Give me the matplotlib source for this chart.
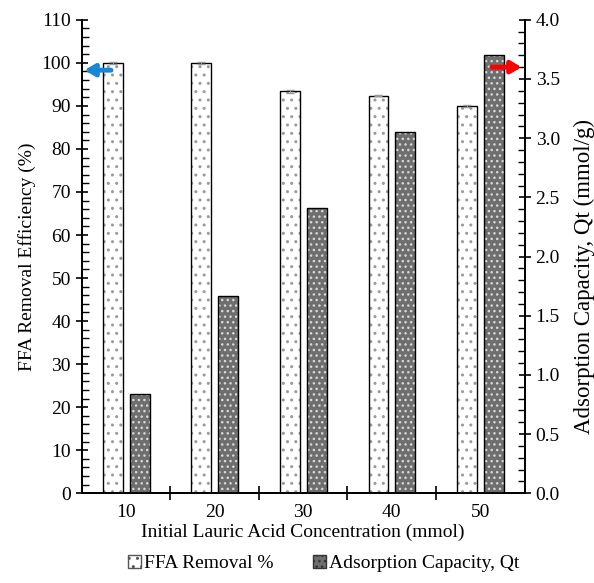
import matplotlib
matplotlib.use("Agg")
import matplotlib.pyplot as plt
import numpy as np
from matplotlib.ticker import MultipleLocator, FormatStrFormatter
from matplotlib.patches import Patch

plt.rcParams['font.family'] = ['Liberation Serif', 'DejaVu Serif']
plt.rcParams['hatch.linewidth'] = 1.0

categories = ["10", "20", "30", "40", "50"]
ffa_removal = [100.0, 100.0, 93.4, 92.4, 90.0]
ffa_err = [0.3, 0.3, 0.3, 0.2, 0.2]
qt_capacity = [0.835, 1.665, 2.41, 3.05, 3.70]

fig = plt.figure(figsize=(5.94, 5.83), dpi=100)
ax = fig.add_axes([0.138, 0.154, 0.745, 0.812])
ax2 = ax.twinx()

x = np.arange(len(categories))
w = 0.225
off1, off2 = -0.15, 0.152

ax.bar(x + off1, ffa_removal, w, color='white', edgecolor='#9a9a9a', hatch='..', linewidth=0, zorder=2)
ax.bar(x + off1, ffa_removal, w, fill=False, edgecolor='black', linewidth=1.0, zorder=3)
ax.errorbar(x + off1, ffa_removal, yerr=ffa_err, fmt='none', ecolor='#999999', capsize=3, elinewidth=0.8, zorder=4)

ax2.bar(x + off2, qt_capacity, w, color='#6e6e6e', edgecolor='#d8d8d8', hatch='...', linewidth=0, zorder=2)
ax2.bar(x + off2, qt_capacity, w, fill=False, edgecolor='black', linewidth=1.0, zorder=3)

ax.set_xlim(-0.5, len(categories) - 0.5)
ax.set_ylim(0, 110)
ax2.set_ylim(0, 4.0)

fs = 14
ax.set_xticks(x)
ax.set_xticklabels(categories)
ax.set_xticks(np.arange(len(categories) - 1) + 0.5, minor=True)
ax.tick_params(axis='x', which='major', length=0, labelsize=fs, pad=8)
ax.tick_params(axis='x', which='minor', direction='inout', length=10, width=1.2)

ax.yaxis.set_major_locator(MultipleLocator(10))
ax.yaxis.set_minor_locator(MultipleLocator(2))
ax.tick_params(axis='y', which='major', direction='inout', length=9, width=1.2, labelsize=fs)
ax.tick_params(axis='y', which='minor', direction='in', length=5, width=1.0)

ax2.yaxis.set_major_locator(MultipleLocator(0.5))
ax2.yaxis.set_minor_locator(MultipleLocator(0.1))
ax2.yaxis.set_major_formatter(FormatStrFormatter('%.1f'))
ax2.tick_params(axis='y', which='major', direction='inout', length=9, width=1.2, labelsize=fs)
ax2.tick_params(axis='y', which='minor', direction='in', length=5, width=1.0)

for a in (ax, ax2):
    a.spines['top'].set_visible(False)
    for s in ('left', 'right', 'bottom'):
        a.spines[s].set_linewidth(1.3)

ax.set_ylabel("FFA Removal Efficiency (%)", fontsize=fs, labelpad=4)
ax2.set_ylabel("Adsorption Capacity, Qt (mmol/g)", fontsize=16.5)
ax2.yaxis.set_label_coords(1.112, 0.457)
ax.set_xlabel("Initial Lauric Acid Concentration (mmol)", fontsize=fs, labelpad=2)

ax.annotate('', xy=(-0.505, 98.3), xytext=(-0.14, 98.3), xycoords='data',
            arrowprops=dict(arrowstyle='-|>,head_length=0.6,head_width=0.35', color='#1a86d6', lw=3.5))
ax2.annotate('', xy=(4.5, 3.6), xytext=(4.1, 3.6), xycoords='data',
             arrowprops=dict(arrowstyle='-|>,head_length=0.6,head_width=0.35', color='#ff0000', lw=3.5))

h1 = Patch(facecolor='white', edgecolor='#555555', hatch='..', linewidth=1.0)
h2 = Patch(facecolor='#6e6e6e', edgecolor='#333333', hatch='...', linewidth=1.0)
fig.legend([h1, h2], ["FFA Removal %", "Adsorption Capacity, Qt"], loc='lower center',
           bbox_to_anchor=(0.545, -0.012), ncol=2, frameon=False, fontsize=fs,
           handlelength=0.7, handleheight=0.7, handletextpad=0.15, columnspacing=2.0)

fig.savefig("out.png", dpi=100)
